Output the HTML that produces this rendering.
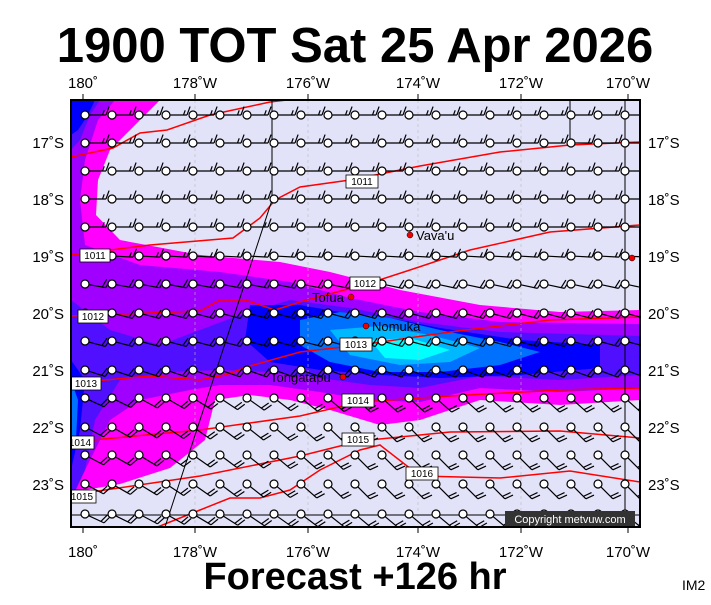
<!DOCTYPE html>
<html><head><meta charset="utf-8"><style>
body{margin:0;background:#fff;width:711px;height:600px;overflow:hidden;font-family:"Liberation Sans",sans-serif}
</style></head><body>
<svg width="711" height="600" xmlns="http://www.w3.org/2000/svg" font-family="Liberation Sans, sans-serif">
<text x="355" y="62" font-size="49" font-weight="bold" text-anchor="middle">1900 TOT Sat 25 Apr 2026</text>
<text x="355" y="589" font-size="38" font-weight="bold" text-anchor="middle">Forecast +126 hr</text>
<text x="682" y="590" font-size="14">IM2</text>
<defs><clipPath id="c"><rect x="71" y="100" width="569" height="427"/></clipPath></defs>
<g clip-path="url(#c)">
<rect x="71" y="100" width="569" height="427" fill="#e2e2f8"/>
<path d="M71,100 L160,100 L135,125 L110,150 L98,180 L96,215 L120,240 L200,255 L280,262 L330,272 L400,290 L480,305 L560,312 L640,310 L640,400 L560,405 L480,400 L420,420 L380,425 L330,410 L290,400 L250,395 L215,400 L205,440 L170,468 L120,484 L85,490 L71,500Z" fill="#ff00ff"/>
<path d="M71,100 L115,100 L98,120 L85,160 L80,200 L85,245 L140,265 L220,272 L290,282 L350,298 L420,312 L500,322 L640,324 L640,388 L560,392 L480,388 L420,402 L370,400 L320,392 L270,385 L220,385 L190,390 L140,400 L110,420 L95,450 L80,480 L71,490Z" fill="#a000ff"/>
<path d="M71,100 L100,100 L90,115 L80,140 L71,150Z M71,300 L110,330 L160,345 L200,330 L240,315 L290,300 L350,308 L420,322 L500,332 L640,336 L640,375 L560,380 L480,376 L420,388 L370,385 L320,378 L270,372 L220,370 L170,372 L120,380 L95,420 L85,470 L71,500Z" fill="#5010ff"/>
<path d="M71,100 L95,100 L88,115 L78,130 L71,135Z M250,305 L300,305 L340,312 L390,318 L440,328 L520,340 L600,345 L600,368 L520,375 L440,378 L380,375 L320,370 L270,362 L245,340Z M71,360 L85,380 L80,430 L71,470Z" fill="#0000ff"/>
<path d="M300,320 L340,312 L390,318 L440,330 L500,342 L540,352 L500,365 L440,372 L380,372 L330,362 L300,345Z M71,380 L78,400 L76,440 L71,450Z" fill="#0070ff"/>
<path d="M330,330 L380,326 L430,335 L480,348 L450,362 L400,365 L350,355Z" fill="#00b8ff"/>
<path d="M370,340 L410,338 L450,350 L420,360 L385,358Z" fill="#00ffff"/>
<g stroke="#bbb" stroke-width="0.6" stroke-dasharray="3,3">
<line x1="195" y1="100" x2="195" y2="527"/><line x1="308" y1="100" x2="308" y2="527"/><line x1="418" y1="100" x2="418" y2="527"/><line x1="521" y1="100" x2="521" y2="527"/>
</g>
<g fill="none" stroke="#f00" stroke-width="1.5">
<polyline points="71,157 113,148 140,133 167,130 210,115 270,102 320,96"/>
<polyline points="71,255 150,245 233,238 260,218 275,200 300,187 350,180 420,166 500,152 570,145 640,142"/>
<polyline points="71,316 200,311 220,300 245,300 275,310 300,302 370,283 410,270 470,250 550,232 640,225"/>
<polyline points="71,383 150,376 200,380 225,375 250,366 300,352 360,345 450,332 550,320 640,317"/>
<polyline points="71,442 200,430 300,416 360,402 450,396 560,390 640,388"/>
<polyline points="71,495 200,476 300,456 360,441 450,432 560,431 640,438"/>
<polyline points="150,530 200,510 230,498 260,498 290,490 320,470 360,450 380,445 420,476 500,478 570,471 640,482"/>
</g>
<g stroke="#000" stroke-width="1" fill="none">
<polyline points="272,100 272,200 165,527"/>
<line x1="570" y1="100" x2="570" y2="140"/>
<line x1="625" y1="100" x2="625" y2="527"/>
<line x1="71" y1="515" x2="640" y2="515"/>
</g>
<g id="barbs"></g>
<g font-size="10" text-anchor="middle">
<g fill="#fff" stroke="#000" stroke-width="0.8">
<rect x="346" y="175" width="32" height="13"/><rect x="350" y="277" width="30" height="13"/><rect x="340" y="338" width="32" height="13"/><rect x="342" y="394" width="32" height="13"/><rect x="342" y="433" width="32" height="13"/><rect x="406" y="467" width="32" height="13"/>
<rect x="80" y="249" width="30" height="13"/><rect x="78" y="310" width="30" height="13"/><rect x="71" y="377" width="30" height="13"/><rect x="66" y="436" width="28" height="13"/><rect x="68" y="490" width="28" height="13"/>
</g>
<text x="362" y="185">1011</text><text x="365" y="287">1012</text><text x="356" y="348">1013</text><text x="358" y="404">1014</text><text x="358" y="443">1015</text><text x="422" y="477">1016</text>
<text x="95" y="259">1011</text><text x="93" y="320">1012</text><text x="86" y="387">1013</text><text x="80" y="446">1014</text><text x="82" y="500">1015</text>
</g>
<g fill="#e00" stroke="#000" stroke-width="0.5">
<circle cx="410" cy="235" r="3"/><circle cx="351" cy="297" r="3"/><circle cx="366" cy="326" r="3"/><circle cx="343" cy="377" r="3"/><circle cx="632" cy="258" r="3"/>
</g>
<g font-size="13" fill="#000">
<text x="416" y="240">Vava'u</text><text x="312" y="302">Tofua</text><text x="372" y="331">Nomuka</text><text x="270" y="382">Tongatapu</text>
</g>
<rect x="505" y="511" width="130" height="15" fill="#333"/>
<text x="570" y="523" font-size="11" fill="#fff" text-anchor="middle">Copyright metvuw.com</text>
</g>
<rect x="71" y="100" width="569" height="427" fill="none" stroke="#000" stroke-width="2"/>
<g font-size="15" fill="#000" text-anchor="middle">
<text x="83" y="88">180˚</text><text x="195" y="88">178˚W</text><text x="308" y="88">176˚W</text><text x="418" y="88">174˚W</text><text x="521" y="88">172˚W</text><text x="628" y="88">170˚W</text>
<text x="83" y="557">180˚</text><text x="195" y="557">178˚W</text><text x="308" y="557">176˚W</text><text x="418" y="557">174˚W</text><text x="521" y="557">172˚W</text><text x="628" y="557">170˚W</text>
</g>
<g font-size="15" fill="#000">
<g text-anchor="end"><text x="64" y="148">17˚S</text><text x="64" y="205">18˚S</text><text x="64" y="262">19˚S</text><text x="64" y="319">20˚S</text><text x="64" y="376">21˚S</text><text x="64" y="433">22˚S</text><text x="64" y="490">23˚S</text></g>
<text x="648" y="148">17˚S</text><text x="648" y="205">18˚S</text><text x="648" y="262">19˚S</text><text x="648" y="319">20˚S</text><text x="648" y="376">21˚S</text><text x="648" y="433">22˚S</text><text x="648" y="490">23˚S</text>
</g>
<g stroke="#000" stroke-width="1">
<line x1="83" y1="94" x2="83" y2="100"/><line x1="195" y1="94" x2="195" y2="100"/><line x1="308" y1="94" x2="308" y2="100"/><line x1="418" y1="94" x2="418" y2="100"/><line x1="521" y1="94" x2="521" y2="100"/><line x1="628" y1="94" x2="628" y2="100"/>
<line x1="83" y1="527" x2="83" y2="533"/><line x1="195" y1="527" x2="195" y2="533"/><line x1="308" y1="527" x2="308" y2="533"/><line x1="418" y1="527" x2="418" y2="533"/><line x1="521" y1="527" x2="521" y2="533"/><line x1="628" y1="527" x2="628" y2="533"/>
</g>
</svg>
<script>
var rows=[[115,0,0,1.5],[143,0,0,1.5],[171,0,0,1.5],[199,0,0,1.5],[227,0,0,1.5],[256,3,3,1.5],[284,10,12,2],[313,15,15,2],[341,15,15,2],[370,18,20,2],[398,25,42,2],[427,28,45,2],[455,28,45,2],[484,28,45,2],[514,25,40,2]];
var s='';
rows.forEach(function(r){
 for(var i=0;i<21;i++){
  var x=85+i*27,y=r[0],deg=r[1]+(r[2]-r[1])*Math.min(1,i/10),a=deg*Math.PI/180,L=21;
  var dx=Math.cos(a),dy=Math.sin(a);
  var x0=x+4*dx,y0=y+4*dy,x1=x+L*dx,y1=y+L*dy;
  s+='<line x1="'+x0+'" y1="'+y0+'" x2="'+x1+'" y2="'+y1+'"/>';
  var fa=a-70*Math.PI/180;
  var n=Math.floor(r[3]);
  for(var k=0;k<n;k++){
   var bx=x1-k*3.5*dx,by=y1-k*3.5*dy,fl=9;
   s+='<line x1="'+bx+'" y1="'+by+'" x2="'+(bx+fl*Math.cos(fa))+'" y2="'+(by+fl*Math.sin(fa))+'"/>';
  }
  if(r[3]%1){var bx=x1-n*3.5*dx,by=y1-n*3.5*dy;s+='<line x1="'+bx+'" y1="'+by+'" x2="'+(bx+5*Math.cos(fa))+'" y2="'+(by+5*Math.sin(fa))+'"/>';}
  s+='<circle cx="'+x+'" cy="'+y+'" r="4" fill="#fff"/>';
 }
});
document.getElementById('barbs').innerHTML='<g stroke="#000" stroke-width="1.2" fill="none">'+s+'</g>';
</script>
</body></html>
